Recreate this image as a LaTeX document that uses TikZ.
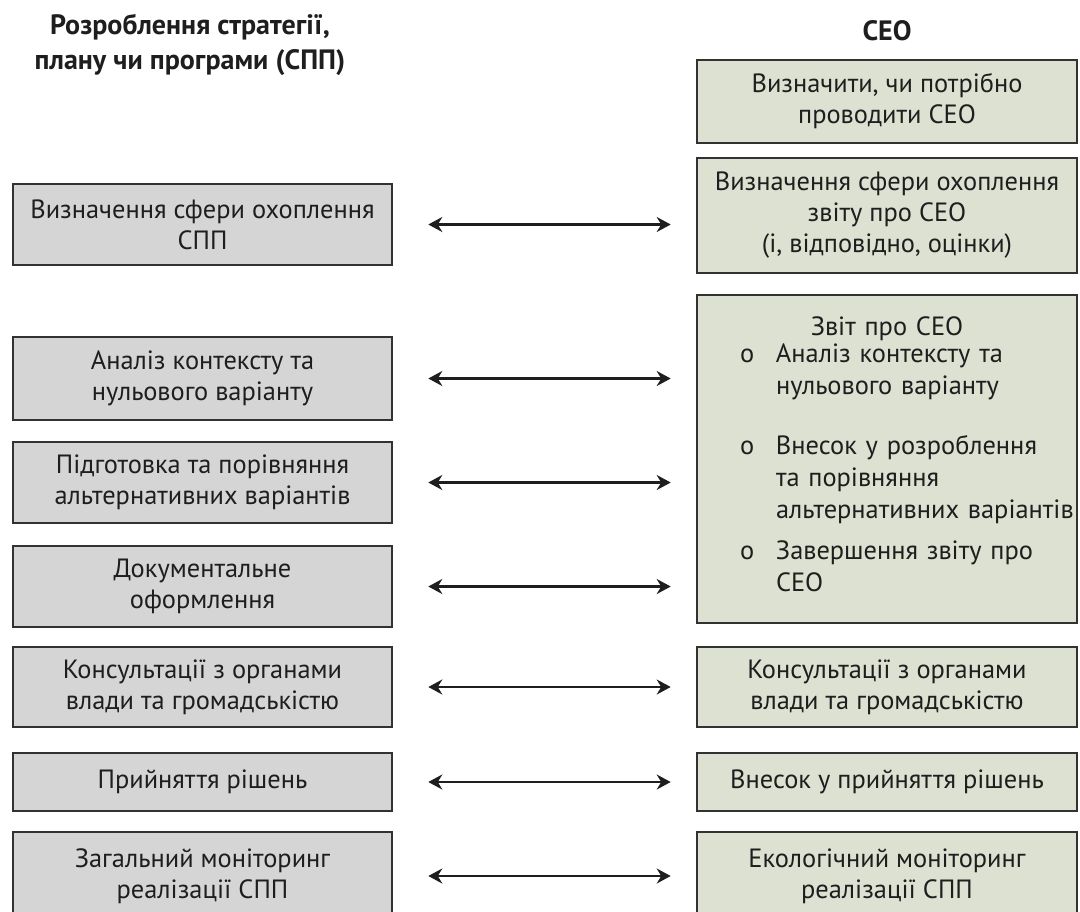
\documentclass[tikz,border=0pt]{standalone}
\usepackage{fontspec}
\setmainfont{PT Sans}
\usetikzlibrary{arrows.meta}
\definecolor{sppgrey}{RGB}{213,213,213}
\definecolor{ceosage}{RGB}{221,225,210}
\definecolor{edgegrey}{RGB}{50,50,50}
\definecolor{inkgrey}{RGB}{30,30,30}

\begin{document}
\begin{tikzpicture}[x=0.5pt, y=-0.5pt,
  box/.style={draw=edgegrey, line width=1.3pt, text=inkgrey, align=center, inner sep=2pt, font=\fontsize{13.2}{15.5}\selectfont},
  sppbox/.style={box, fill=sppgrey, minimum width=189.5pt},
  ceobox/.style={box, fill=ceosage, minimum width=190pt},
  head/.style={text=inkgrey, align=center, font=\fontsize{14}{17.5}\selectfont\bfseries},
  link/.style={{Stealth[length=7pt,width=7.5pt]}-{Stealth[length=7pt,width=7.5pt]}, line width=1.2pt, draw=inkgrey, shorten <=17.5pt, shorten >=12.5pt}]
  \useasboundingbox (0,0) rectangle (1080,911);

  % Column headings
  \node[head] (spphead) at (190,45) {Розроблення стратегії,\\плану чи програми (СПП)};
  \node[head] (ceohead) at (887,31) {СЕО};

  % SPP column
  \node[sppbox, minimum height=40.5pt] (sfera) at (202.5,224.5) {Визначення сфери охоплення\\СПП};
  \node[sppbox, minimum height=41.5pt] (analiz) at (202.5,378.5) {Аналіз контексту та\\нульового варіанту};
  \node[sppbox, minimum height=40.5pt] (pidhot) at (202.5,482.5) {Підготовка та порівняння\\альтернативних варіантів};
  \node[sppbox, minimum height=40.5pt] (dokum) at (202.5,586.5) {Документальне\\оформлення};
  \node[sppbox, minimum height=40pt] (konsult) at (202.5,687) {Консультації з органами\\влади та громадськістю};
  \node[sppbox, minimum height=29pt] (rishen) at (202.5,782) {Прийняття рішень};
  \node[sppbox, minimum height=44pt] (monit) at (202.5,876) {Загальний моніторинг\\реалізації СПП};

  % CEO column
  \node[ceobox, minimum height=41.5pt] (potreba) at (887,101.5) {Визначити, чи потрібно\\проводити СЕО};
  \node[ceobox, minimum height=57.5pt] (sferaceo) at (887,215.5) {Визначення сфери охоплення\\звіту про СЕО\\(і, відповідно, оцінки)};
  \node[ceobox, minimum height=164pt, text width=186pt, align=left, font=\fontsize{13.2}{16}\selectfont] (zvit) at (887,459) {%
    \makebox[\linewidth]{Звіт про СЕО}\\[-1pt]
    \begin{tabular}{@{\hspace{19.5pt}}p{18pt}@{}l@{}}
      o & Аналіз контексту та\\
        & нульового варіанту\\[14pt]
      o & Внесок у розроблення\\
        & та порівняння\\
        & альтернативних варіантів\\[4.5pt]
      o & Завершення звіту про\\
        & СЕО
    \end{tabular}};
  \node[ceobox, minimum height=40pt] (konsultceo) at (887,687) {Консультації з органами\\влади та громадськістю};
  \node[ceobox, minimum height=29pt] (rishenceo) at (887,782) {Внесок у прийняття рішень};
  \node[ceobox, minimum height=44pt] (monitceo) at (887,876) {Екологічний моніторинг\\реалізації СПП};

  % Links
  \draw[link] (sfera.east) -- (sfera.east -| sferaceo.west);
  \draw[link] (analiz.east) -- (analiz.east -| zvit.west);
  \draw[link] (pidhot.east) -- (pidhot.east -| zvit.west);
  \draw[link] (dokum.east) -- (dokum.east -| zvit.west);
  \draw[link] (konsult) -- (konsultceo);
  \draw[link] (rishen) -- (rishenceo);
  \draw[link] (monit) -- (monitceo);
\end{tikzpicture}
\end{document}
